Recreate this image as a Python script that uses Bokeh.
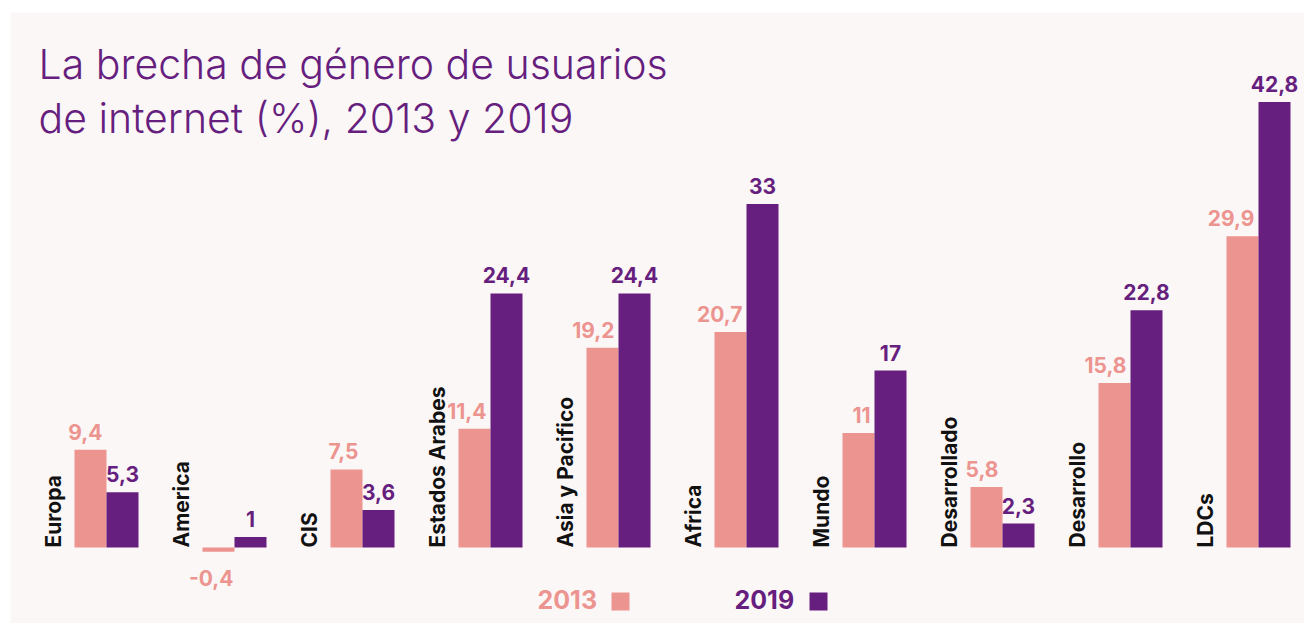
import math
from bokeh.plotting import figure
from bokeh.models import ColumnDataSource, Range1d, Label, BoxAnnotation
from bokeh.transform import dodge
from bokeh.core.properties import value
from bokeh.embed import file_html
from bokeh.resources import INLINE

# ---- data ----
categories = ["Europa", "America", "CIS", "Estados Arabes", "Asia y Pacifico",
              "Africa", "Mundo", "Desarrollado", "Desarrollo", "LDCs"]
values_2013 = [9.4, -0.4, 7.5, 11.4, 19.2, 20.7, 11.0, 5.8, 15.8, 29.9]
values_2019 = [5.3, 1.0, 3.6, 24.4, 24.4, 33.0, 17.0, 2.3, 22.8, 42.8]
series_names = ["2013", "2019"]

# ---- style ----
BG = "#FCF7F7"
C13 = "#EC948F"
C19 = "#661F7E"
FONT = "Inter"

W, H = 1304, 623
LEFT, TOP = 10, 12          # white strip around the panel
X_PX = 128.0                # pixels per group
Y_PX = 10.41                # pixels per percentage point
CX0 = 106.0                 # pixel centre of first group
BASE = 547.0                # pixel of the zero line


def fmt(v):
    return f"{v:g}".replace(".", ",")


def px2x(px):
    return (px - CX0) / X_PX


def py2y(py):
    return (BASE - py) / Y_PX


p = figure(width=W, height=H, output_backend="svg", toolbar_location=None,
           x_range=Range1d(px2x(LEFT), px2x(W)),
           y_range=Range1d(py2y(H), py2y(TOP)),
           x_axis_location=None, y_axis_location=None,
           min_border=0, min_border_left=LEFT, min_border_right=0,
           min_border_top=TOP, min_border_bottom=0)
p.background_fill_color = BG
p.border_fill_color = "white"
p.outline_line_color = None
p.grid.visible = False

idx = list(range(len(categories)))
src = ColumnDataSource(dict(idx=idx, cat=categories, v13=values_2013, v19=values_2019))

p.vbar(x=dodge("idx", -0.125, range=p.x_range), top="v13", bottom=0, width=0.25,
       source=src, fill_color=C13, line_color=None)
p.vbar(x=dodge("idx", 0.125, range=p.x_range), top="v19", bottom=0, width=0.25,
       source=src, fill_color=C19, line_color=None)

# category labels (rotated)
p.text(x=dodge("idx", -53.0 / X_PX, range=p.x_range), y=0, text="cat", source=src,
       angle=math.pi / 2, text_align="left", text_baseline="alphabetic",
       text_font=value(FONT), text_font_style="bold", text_font_size="21px",
       text_color="#111111")

# value labels
pos13 = [(i, v) for i, v in zip(idx, values_2013) if v >= 0]
neg13 = [(i, v) for i, v in zip(idx, values_2013) if v < 0]
lab_kw = dict(text_font=value(FONT), text_font_style="bold", text_font_size="21px")

p.text(x=[i for i, v in pos13], y=[v for i, v in pos13], text=[fmt(v) for i, v in pos13],
       text_align="right", text_baseline="alphabetic", x_offset=-4, y_offset=-18,
       text_color=C13, **lab_kw)
if neg13:
    p.text(x=[i for i, v in neg13], y=[v for i, v in neg13], text=[fmt(v) for i, v in neg13],
           text_align="right", text_baseline="top", x_offset=-1, y_offset=18,
           text_color=C13, **lab_kw)
p.text(x=[i + 0.125 for i in idx], y=[max(v, 0) for v in values_2019],
       text=[fmt(v) for v in values_2019],
       text_align="center", text_baseline="alphabetic", y_offset=-18,
       text_color=C19, **lab_kw)

# title
for line, base in [("La brecha de género de usuarios", 63), ("de internet (%), 2013 y 2019", 117)]:
    p.add_layout(Label(x=px2x(38), y=py2y(base), text=line, text_font="Inter Light",
                       text_font_size="41px", text_color=C19, text_baseline="alphabetic",
                       text_align="left"))

# legend (text then square)
for name, col, tx, sq in [(series_names[0], C13, 537, 611), (series_names[1], C19, 734, 809)]:
    p.add_layout(Label(x=px2x(tx), y=py2y(599), text=name, text_font=FONT,
                       text_font_style="bold", text_font_size="25px", text_color=col,
                       text_baseline="alphabetic", text_align="left"))
    p.add_layout(BoxAnnotation(left=px2x(sq), right=px2x(sq + 18),
                               top=py2y(592), bottom=py2y(610),
                               fill_color=col, fill_alpha=1.0, line_color=None))

open("out.html", "w").write(file_html(p, INLINE))
